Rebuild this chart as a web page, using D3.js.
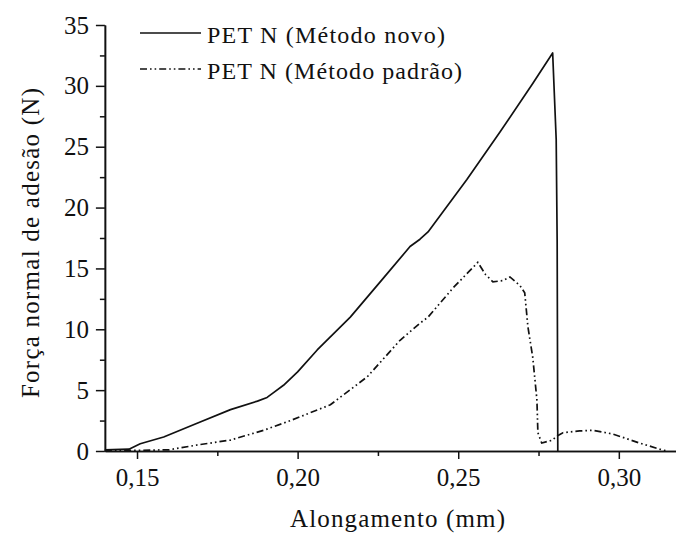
<!DOCTYPE html>
<html>
<head>
<meta charset="utf-8">
<script src="https://cdn.jsdelivr.net/npm/d3@7/dist/d3.min.js"></script>
<style>
  html, body { margin: 0; padding: 0; background: #fff; }
  svg { display: block; }
  text { font-family: "Liberation Serif", "Times New Roman", Tinos, "DejaVu Serif", serif; fill: #111; }
</style>
</head>
<body>
<svg id="chart" width="676" height="533"></svg>
<script>
// Curve: new method (Método novo)
const novoX = [0.140, 0.1475, 0.151, 0.1583, 0.1689, 0.1791, 0.1875, 0.1905, 0.1925, 0.1956,
               0.2000, 0.2061, 0.2164, 0.2267, 0.2350, 0.2381, 0.2406, 0.2527, 0.2630, 0.2732,
               0.2794, 0.2805, 0.2808, 0.2810];
const novoY = [0.1, 0.15, 0.6, 1.15, 2.3, 3.4, 4.1, 4.4, 4.8, 5.4,
               6.5, 8.3, 11.0, 14.2, 16.8, 17.4, 18.0, 22.3, 26.2, 30.2,
               32.7, 25.6, 17.3, 0];

// Curve: standard method (Método padrão)
const padraoX = [0.140, 0.150, 0.160, 0.1689, 0.1791, 0.1894, 0.1978, 0.2102, 0.2217, 0.2319,
                 0.2381, 0.2406, 0.2484, 0.2543, 0.2561, 0.2585, 0.2608, 0.2640, 0.2661, 0.2692,
                 0.2707, 0.2717, 0.2732, 0.2745, 0.2748, 0.2760, 0.2794, 0.2805, 0.2826, 0.2878,
                 0.2919, 0.2981, 0.3065, 0.3136, 0.3150];
const padraoY = [0.05, 0.05, 0.1, 0.5, 0.9, 1.7, 2.5, 3.8, 6.1, 9.1,
                 10.5, 11.0, 13.4, 15.0, 15.5, 14.5, 13.9, 14.0, 14.3, 13.6,
                 13.0, 10.2, 7.7, 4.2, 1.5, 0.65, 0.9, 1.2, 1.5, 1.65,
                 1.7, 1.4, 0.65, 0.08, 0];

const xMajor = [0.15, 0.20, 0.25, 0.30];
const xMinor = [0.175, 0.225, 0.275];
const yMajor = [0, 5, 10, 15, 20, 25, 30, 35];
const yMinor = [2.5, 7.5, 12.5, 17.5, 22.5, 27.5, 32.5];

const seriesNames = ["PET N (Método novo)", "PET N (Método padrão)"];
const xTitle = "Alongamento (mm)";
const yTitle = "Força normal de adesão (N)";

const FONT = '"Liberation Serif", "Times New Roman", Tinos, "DejaVu Serif", serif';

const svg = d3.select("#chart");
const fmt = v => d3.format(".2f")(v).replace(".", ",");

const x = d3.scaleLinear().domain([0.14, 0.3178]).range([104.9, 676]);
const y = d3.scaleLinear().domain([0, 35]).range([451, 25]);

const dashPattern = "7,3,1.6,3,1.6,3";

// Axes: labelled major ticks plus short minor ticks, all pointing outward
const xAxis = svg.append("g").attr("transform", `translate(0,${y(0)})`);
xAxis.call(d3.axisBottom(x).tickValues(xMajor).tickFormat(fmt).tickSize(8).tickSizeOuter(0).tickPadding(7));
const xAxisMinor = svg.append("g").attr("transform", `translate(0,${y(0)})`);
xAxisMinor.call(d3.axisBottom(x).tickValues(xMinor).tickFormat("").tickSize(5).tickSizeOuter(0));

const yAxis = svg.append("g").attr("transform", `translate(${x(0.14)},0)`);
yAxis.call(d3.axisLeft(y).tickValues(yMajor).tickFormat(d3.format("d")).tickSize(9).tickSizeOuter(0).tickPadding(7));
const yAxisMinor = svg.append("g").attr("transform", `translate(${x(0.14)},0)`);
yAxisMinor.call(d3.axisLeft(y).tickValues(yMinor).tickFormat("").tickSize(5).tickSizeOuter(0));

svg.selectAll("g").attr("font-family", null).attr("font-size", null);
svg.selectAll(".domain").attr("stroke", "#111").attr("stroke-width", 1.6);
svg.selectAll(".tick line").attr("stroke", "#111").attr("stroke-width", 1.5);
svg.selectAll(".tick text")
  .style("font-family", FONT)
  .style("font-size", "25px")
  .attr("fill", "#111");
xAxis.selectAll(".tick text").attr("dy", "0.78em");

// Curves
const line = d3.line().x(d => x(d[0])).y(d => y(d[1]));
const novo = novoX.map((v, i) => [v, novoY[i]]);
const padrao = padraoX.map((v, i) => [v, padraoY[i]]);

svg.append("path").datum(padrao)
  .attr("d", line).attr("fill", "none")
  .attr("stroke", "#111").attr("stroke-width", 1.7)
  .attr("stroke-dasharray", dashPattern);

svg.append("path").datum(novo)
  .attr("d", line).attr("fill", "none")
  .attr("stroke", "#111").attr("stroke-width", 1.7)
  .attr("stroke-linejoin", "round");

// Legend
const legend = svg.append("g");
const legendRows = [
  { name: seriesNames[0], dash: null, yy: 33, len: 238 },
  { name: seriesNames[1], dash: dashPattern, yy: 69, len: 255 }
];
legendRows.forEach(r => {
  legend.append("line")
    .attr("x1", 140).attr("x2", 201).attr("y1", r.yy).attr("y2", r.yy)
    .attr("stroke", "#111").attr("stroke-width", 1.7)
    .attr("stroke-dasharray", r.dash);
  legend.append("text")
    .attr("x", 207).attr("y", r.yy + 10)
    .attr("textLength", r.len).attr("lengthAdjust", "spacing")
    .style("font-family", FONT)
    .style("font-size", "24px")
    .text(r.name);
});

// Axis titles
svg.append("text")
  .attr("x", 290).attr("y", 527)
  .attr("textLength", 215).attr("lengthAdjust", "spacing")
  .style("font-family", FONT)
  .style("font-size", "25px")
  .text(xTitle);

svg.append("text")
  .attr("transform", `translate(39,398) rotate(-90)`)
  .attr("textLength", 310).attr("lengthAdjust", "spacing")
  .style("font-family", FONT)
  .style("font-size", "25px")
  .text(yTitle);
</script>
</body>
</html>
